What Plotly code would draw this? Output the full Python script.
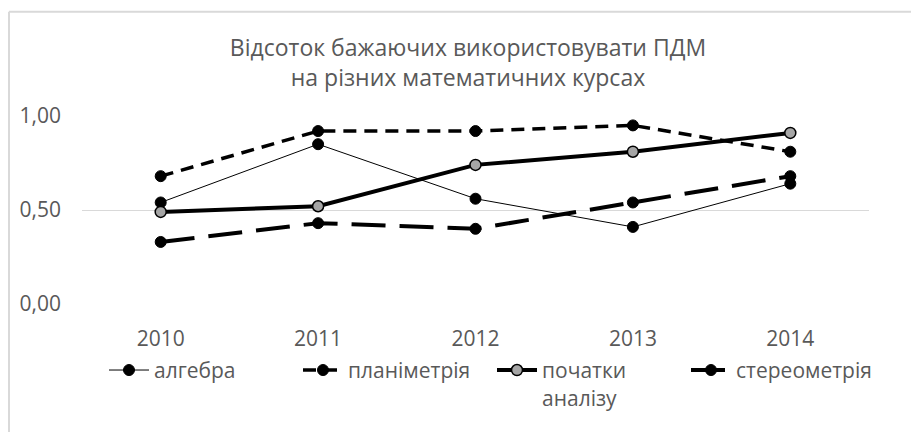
import plotly.graph_objects as go

years = ["2010", "2011", "2012", "2013", "2014"]
algebra = [0.54, 0.85, 0.56, 0.41, 0.64]
planimetry = [0.68, 0.92, 0.92, 0.95, 0.81]
analysis = [0.49, 0.52, 0.74, 0.81, 0.91]
stereometry = [0.33, 0.43, 0.40, 0.54, 0.68]
y_ticks = [0.0, 0.5, 1.0]
y_tick_labels = ["0,00", "0,50", "1,00"]

FONT = "Open Sans"
GRAY = "#595959"

fig = go.Figure()
fig.add_trace(go.Scatter(
    x=years, y=algebra, name="алгебра", mode="lines+markers",
    line=dict(color="black", width=1),
    marker=dict(symbol="circle", size=11, color="black", line=dict(color="black", width=1)),
    cliponaxis=False))
fig.add_trace(go.Scatter(
    x=years, y=planimetry, name="планіметрія", mode="lines+markers",
    line=dict(color="black", width=3.5, dash="13px,8px"),
    marker=dict(symbol="circle", size=11, color="black", line=dict(color="black", width=1)),
    cliponaxis=False))
fig.add_trace(go.Scatter(
    x=years, y=analysis, name="початки<br>аналізу", mode="lines+markers",
    line=dict(color="black", width=4),
    marker=dict(symbol="circle", size=11, color="#a6a6a6", line=dict(color="black", width=1.5)),
    cliponaxis=False))
fig.add_trace(go.Scatter(
    x=years, y=stereometry, name="стереометрія", mode="lines+markers",
    line=dict(color="black", width=4, dash="34px,14px"),
    marker=dict(symbol="circle", size=11, color="black", line=dict(color="black", width=1)),
    cliponaxis=False))

# page body has an 8px margin; figure coordinates = screen - 8
OFF = 8
W, H = 919 - OFF, 432 - OFF
L, R, T, B = 82 - OFF, 869 - OFF, 115.5 - OFF, 304 - OFF
pw, ph = R - L, B - T

def px2x(sx):
    return (sx - OFF - L) / pw

def py2y(sy):
    return (B - (sy - OFF)) / ph

# chart border (light gray), top and left visible
fig.add_shape(type="line", xref="paper", yref="paper",
              x0=px2x(9), x1=px2x(930), y0=py2y(11), y1=py2y(11),
              line=dict(color="#d9d9d9", width=2))
fig.add_shape(type="line", xref="paper", yref="paper",
              x0=px2x(9), x1=px2x(9), y0=py2y(11), y1=py2y(445),
              line=dict(color="#d9d9d9", width=2))

fig.update_layout(
    width=W, height=H,
    margin=dict(l=L, r=W - R, t=T, b=H - B, pad=0, autoexpand=False),
    paper_bgcolor="white", plot_bgcolor="white",
    font=dict(family=FONT, color=GRAY, size=21),
    title=dict(text="Відсоток бажаючих використовувати ПДМ<br>на різних математичних курсах",
               x=px2x(468), xref="paper", xanchor="center",
               y=1 - 48 / H, yref="container", yanchor="middle",
               font=dict(family=FONT, size=23, color=GRAY)),
    xaxis=dict(type="category", range=[-0.5, 4.5], showgrid=False, zeroline=False,
               showline=False, ticks="", tickfont=dict(size=21, color=GRAY),
               ticklabelstandoff=20),
    yaxis=dict(range=[0, 1], tickvals=y_ticks, ticktext=y_tick_labels,
               showgrid=True, gridcolor="#d9d9d9", gridwidth=1, zeroline=False,
               showline=False, ticks="", tickfont=dict(size=21, color=GRAY),
               ticklabelstandoff=20),
    legend=dict(orientation="h", x=px2x(104), xanchor="left", y=py2y(350), yanchor="top",
                valign="top", font=dict(size=21, color=GRAY), itemwidth=40,
                entrywidth=139, entrywidthmode="pixels",
                traceorder="normal", tracegroupgap=0, bgcolor="rgba(0,0,0,0)"),
    showlegend=True,
)

fig.write_html("out.html")
